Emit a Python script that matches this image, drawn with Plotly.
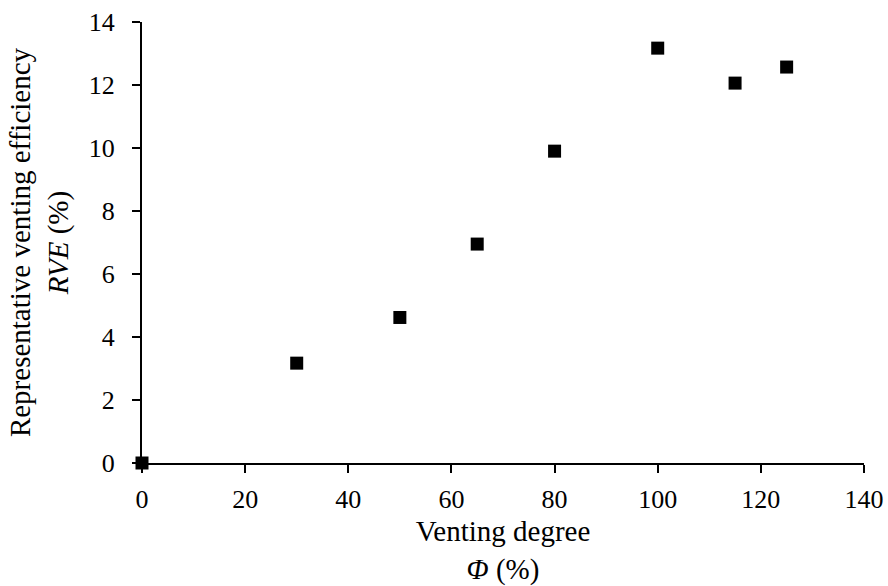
import plotly.graph_objects as go

phi = [0, 30, 50, 65, 80, 100, 115, 125]
rve = [0, 3.17, 4.62, 6.95, 9.9, 13.17, 12.06, 12.57]
x_ticks = [0, 20, 40, 60, 80, 100, 120, 140]
y_ticks = [0, 2, 4, 6, 8, 10, 12, 14]

fig = go.Figure()
fig.add_trace(go.Scatter(
    x=phi, y=rve, mode="markers",
    marker=dict(symbol="square", size=13, color="black"),
    cliponaxis=False, showlegend=False,
))

fam = "Liberation Serif"
tickfont = dict(family=fam, size=26, color="black")
titlefont = dict(family=fam, size=29, color="black")
fig.update_layout(
    width=888, height=586,
    margin=dict(l=142, r=24, t=22, b=123),
    plot_bgcolor="white", paper_bgcolor="white",
    font=dict(family=fam, size=26, color="black"),
    xaxis=dict(
        range=[0, 140], tickvals=x_ticks, showgrid=False, zeroline=False,
        showline=True, linecolor="black", linewidth=2,
        ticks="outside", ticklen=8, tickcolor="black", tickwidth=1.5,
        ticklabelstandoff=4, automargin=False,
        title=dict(text="Venting degree<br><i>Φ</i> (%)", standoff=8, font=titlefont),
        tickfont=tickfont,
    ),
    yaxis=dict(
        range=[0, 14], tickvals=y_ticks, showgrid=False, zeroline=False,
        showline=True, linecolor="black", linewidth=2,
        ticks="outside", ticklen=8, tickcolor="black", tickwidth=1.5,
        ticklabelstandoff=12, automargin=False,
        title=dict(text="Representative venting efficiency<br><i>RVE</i> (%)", standoff=12, font=titlefont),
        tickfont=tickfont,
    ),
)
fig.write_html("out.html")
